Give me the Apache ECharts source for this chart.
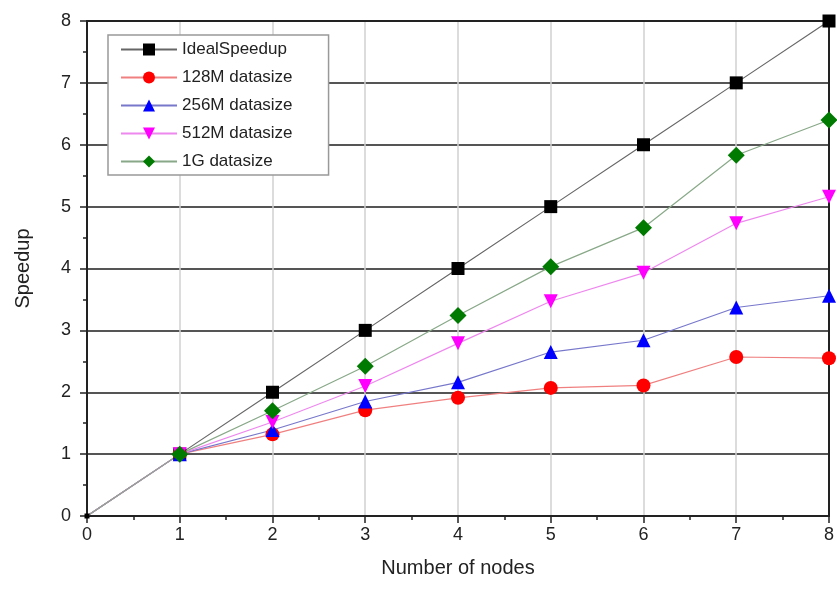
<!DOCTYPE html>
<html>
<head>
<meta charset="utf-8">
<script src="https://cdn.jsdelivr.net/npm/echarts@6/dist/echarts.min.js"></script>
<style>
  html, body { margin: 0; padding: 0; background: #fff; }
  #chart { width: 837px; height: 597px; }
</style>
</head>
<body>
<div id="chart"></div>
<script>
const nodes = [0, 1, 2, 3, 4, 5, 6, 7, 8]
const ideal = [0, 1, 2, 3, 4, 5, 6, 7, 8]
const size128M = [0, 1, 1.32, 1.71, 1.91, 2.07, 2.11, 2.57, 2.55]
const size256M = [0, 1, 1.39, 1.85, 2.16, 2.65, 2.84, 3.37, 3.56]
const size512M = [0, 1, 1.52, 2.10, 2.79, 3.47, 3.93, 4.73, 5.16]
const size1G = [0, 1, 1.70, 2.42, 3.24, 4.03, 4.66, 5.83, 6.40]

const font = 'Liberation Sans, Arial, sans-serif'
const chart = echarts.init(document.getElementById('chart'))

function makeSeries(name, values, symbol, color, lineColor, size, originSize) {
  return {
    name,
    type: 'line',
    data: nodes.map((x, i) => [x, values[i]]),
    symbol,
    // the origin point is only a tiny mark in the original
    symbolSize: (v) => (v[0] === 0 ? originSize : size),
    showAllSymbol: true,
    clip: true,
    itemStyle: { color },
    lineStyle: { color: lineColor, width: 1.2 },
    emphasis: { disabled: true },
    z: 3
  }
}

chart.setOption({
  animation: false,
  backgroundColor: '#fff',
  grid: { left: 87, right: 4, top: 21, bottom: 81 },
  legend: {
    left: 108, top: 35,
    orient: 'vertical',
    backgroundColor: '#fff',
    borderColor: '#999',
    borderWidth: 1.5,
    borderRadius: 0,
    padding: [6, 36, 5, 12],
    itemGap: 11,
    itemWidth: 56,
    itemHeight: 15,
    textStyle: { fontFamily: font, fontSize: 17, color: '#222' },
    data: ['IdealSpeedup', '128M datasize', '256M datasize', '512M datasize', '1G datasize']
  },
  xAxis: [{
    type: 'value', min: 0, max: 8, interval: 1,
    name: 'Number of nodes', nameLocation: 'middle', nameGap: 42,
    nameTextStyle: { fontFamily: font, fontSize: 20, color: '#222' },
    axisLine: { onZero: false, lineStyle: { color: '#222', width: 2 } },
    axisTick: { length: 7, lineStyle: { color: '#222', width: 1.5 } },
    minorTick: { show: true, splitNumber: 2, length: 4, lineStyle: { color: '#222', width: 1.5 } },
    axisLabel: { fontFamily: font, fontSize: 18, color: '#222', margin: 10 },
    splitLine: { show: true, lineStyle: { color: '#d0d0d0', width: 1.5 } }
  }, {
    type: 'value', min: 0, max: 8, position: 'top',
    axisLine: { onZero: false, lineStyle: { color: '#222', width: 2 } },
    axisTick: { show: false }, axisLabel: { show: false }, splitLine: { show: false }
  }],
  yAxis: [{
    type: 'value', min: 0, max: 8, interval: 1,
    name: 'Speedup', nameLocation: 'middle', nameGap: 54,
    nameTextStyle: { fontFamily: font, fontSize: 20, color: '#222' },
    axisLine: { show: true, onZero: false, lineStyle: { color: '#222', width: 2 } },
    axisTick: { show: true, length: 7, lineStyle: { color: '#222', width: 1.5 } },
    minorTick: { show: true, splitNumber: 2, length: 4, lineStyle: { color: '#222', width: 1.5 } },
    axisLabel: { fontFamily: font, fontSize: 18, color: '#222', margin: 16 },
    splitLine: { show: true, lineStyle: { color: '#555', width: 2 } }
  }, {
    type: 'value', min: 0, max: 8, position: 'right',
    axisLine: { show: true, onZero: false, lineStyle: { color: '#222', width: 2 } },
    axisTick: { show: false }, axisLabel: { show: false }, splitLine: { show: false }
  }],
  series: [
    makeSeries('IdealSpeedup', ideal, 'rect', '#000', '#666', 13, 5),
    makeSeries('128M datasize', size128M, 'circle', '#ff0000', '#f08080', 14, 0),
    makeSeries('256M datasize', size256M, 'triangle', '#0000ff', '#7777cc', 14, 0),
    makeSeries('512M datasize', size512M, 'path://M0,0 L10,0 L5,9 Z', '#ff00ff', '#ee88ee', 14, 0),
    makeSeries('1G datasize', size1G, 'diamond', '#007a00', '#88a888', 17, 0)
  ]
})
</script>
</body>
</html>
